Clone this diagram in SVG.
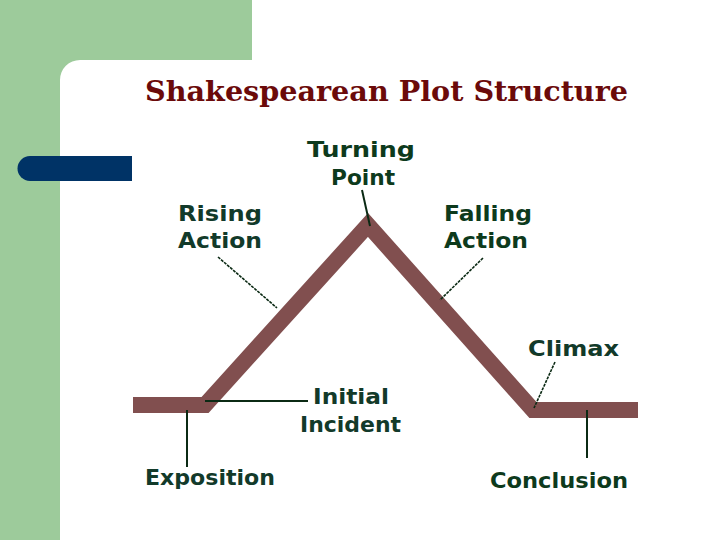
<svg xmlns="http://www.w3.org/2000/svg" width="720" height="540" viewBox="0 0 720 540">
<style>
.lbl{font-family:"DejaVu Sans","Liberation Sans",sans-serif;font-weight:bold;font-size:21px;fill:#123a2a}
.lead{stroke:#0b2a14;stroke-width:2;fill:none}
.lead2{stroke:#0b2a14;stroke-width:1.6;fill:none;stroke-dasharray:3 1}
</style>
<rect x="0" y="0" width="720" height="540" fill="#ffffff"/>
<g id="background">
<rect x="0" y="0" width="252" height="60" fill="#9dcb9b"/>
<rect x="0" y="0" width="60" height="540" fill="#9dcb9b"/>
<path d="M60,80 A20,20 0 0 1 80,60 L60,60 Z" fill="#9dcb9b"/>
<path d="M132,156 L30,156 A12.5,12.5 0 0 0 30,181 L132,181 Z" fill="#003366"/>
</g>
<g id="title">
<text x="145" y="101" font-family="DejaVu Serif,'Liberation Serif',serif" font-weight="bold" font-size="28" fill="#6b0a0a" textLength="483" lengthAdjust="spacingAndGlyphs">Shakespearean Plot Structure</text>
</g>
<g id="plot">
<polyline points="133,405 205,405 368,225 533,410 638,410" fill="none" stroke="#7a4646" stroke-width="16" stroke-linejoin="miter" stroke-opacity="0.95"/>
</g>
<g id="connectors">
<line class="lead" x1="362" y1="190" x2="370" y2="226"/>
<line class="lead2" x1="218" y1="257" x2="277" y2="308"/>
<line class="lead2" x1="483" y1="258" x2="440" y2="300"/>
<line class="lead2" x1="555" y1="362" x2="534" y2="408"/>
<line class="lead" x1="205" y1="401" x2="308" y2="401"/>
<line class="lead" x1="187" y1="410" x2="187" y2="467"/>
<line class="lead" x1="587" y1="410" x2="587" y2="458"/>
</g>
<g id="turning-point">
<text class="lbl" x="361" y="157" text-anchor="middle" style="fill:#0d3a1c" textLength="108" lengthAdjust="spacingAndGlyphs">Turning</text>
<text class="lbl" x="363" y="185" text-anchor="middle" style="fill:#0d3a1c" textLength="64" lengthAdjust="spacingAndGlyphs">Point</text>
</g>
<g id="rising-action">
<text class="lbl" x="178" y="221" textLength="84" lengthAdjust="spacingAndGlyphs">Rising</text>
<text class="lbl" x="178" y="248" textLength="84" lengthAdjust="spacingAndGlyphs">Action</text>
</g>
<g id="falling-action">
<text class="lbl" x="444" y="221" style="fill:#0d3a1c" textLength="88" lengthAdjust="spacingAndGlyphs">Falling</text>
<text class="lbl" x="444" y="248" style="fill:#0d3a1c" textLength="84" lengthAdjust="spacingAndGlyphs">Action</text>
</g>
<g id="climax">
<text class="lbl" x="528" y="356" textLength="91" lengthAdjust="spacingAndGlyphs">Climax</text>
</g>
<g id="initial-incident">
<text class="lbl" x="313" y="404" textLength="76" lengthAdjust="spacingAndGlyphs">Initial</text>
<text class="lbl" x="300" y="432" textLength="101" lengthAdjust="spacingAndGlyphs">Incident</text>
</g>
<g id="exposition">
<text class="lbl" x="145" y="485" textLength="130" lengthAdjust="spacingAndGlyphs">Exposition</text>
</g>
<g id="conclusion">
<text class="lbl" x="490" y="488" style="fill:#0d3a1c" textLength="138" lengthAdjust="spacingAndGlyphs">Conclusion</text>
</g>
</svg>
